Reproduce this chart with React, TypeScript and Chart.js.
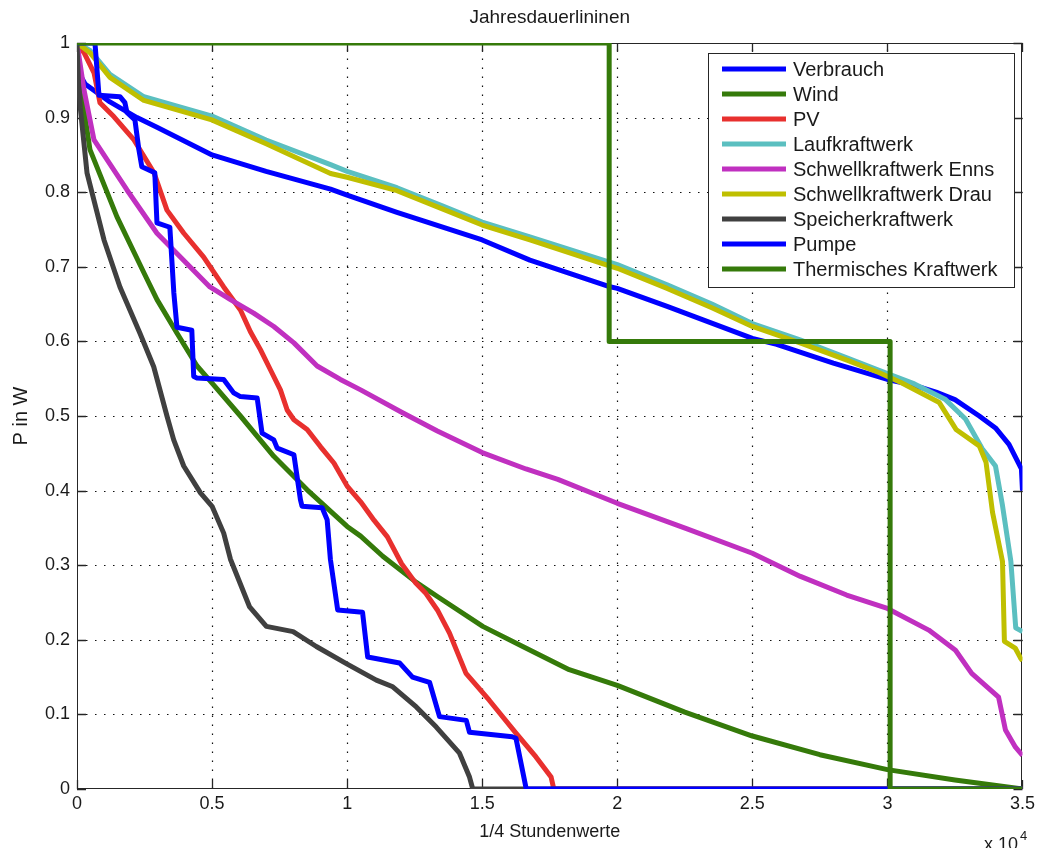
import React, { useEffect, useRef } from "react";
import { Chart, registerables } from "chart.js";

Chart.register(...registerables);

const FONT = '"Liberation Sans", Arial, Helvetica, sans-serif';
const TEXT = "#1a1a1a";
const AXIS = "#262626";

const chartTitle = "Jahresdauerlininen";
const xAxisTitle = "1/4 Stundenwerte";
const yAxisTitle = "P in W";

const seriesLabels = [
  "Verbrauch",
  "Wind",
  "PV",
  "Laufkraftwerk",
  "Schwellkraftwerk Enns",
  "Schwellkraftwerk Drau",
  "Speicherkraftwerk",
  "Pumpe",
  "Thermisches Kraftwerk",
];
const seriesColors = [
  "#0000ff",
  "#357a0a",
  "#e8302e",
  "#5bbfc0",
  "#c030c0",
  "#bfbf00",
  "#404040",
  "#0000ff",
  "#357a0a",
];

const xTickValues = [0, 5000, 10000, 15000, 20000, 25000, 30000, 35000];
const xTickLabels = ["0", "0.5", "1", "1.5", "2", "2.5", "3", "3.5"];
const yTickLabels = ["0", "0.1", "0.2", "0.3", "0.4", "0.5", "0.6", "0.7", "0.8", "0.9", "1"];

const verbrauchX = [0, 150, 300, 1220, 2220, 2960, 5000, 7000, 9385, 10000, 11845, 15000, 16765, 19650, 20000, 21845, 25000, 25900, 28000, 30000, 31000, 31800, 32500, 33400, 34000, 34500, 34960, 35000];
const verbrauchY = [0.99, 0.955, 0.945, 0.921, 0.9, 0.887, 0.85, 0.828, 0.804, 0.796, 0.773, 0.736, 0.709, 0.674, 0.671, 0.647, 0.604, 0.596, 0.571, 0.549, 0.541, 0.532, 0.522, 0.5, 0.484, 0.462, 0.429, 0.4];

const windX = [0, 60, 185, 480, 1480, 2476, 2962, 3703, 4444, 5000, 6050, 7285, 8520, 10000, 10500, 11320, 12560, 13340, 15020, 16500, 18220, 20000, 22500, 25000, 27500, 30000, 32500, 35000];
const windY = [1.0, 0.96, 0.928, 0.857, 0.767, 0.692, 0.656, 0.611, 0.567, 0.544, 0.5, 0.446, 0.401, 0.352, 0.339, 0.312, 0.277, 0.258, 0.218, 0.191, 0.16, 0.139, 0.103, 0.071, 0.046, 0.026, 0.012, 0.0];

const pvX = [0, 260, 630, 850, 1370, 2110, 2850, 3330, 3955, 4690, 5430, 6050, 6420, 6790, 7160, 7530, 7780, 8030, 8520, 9010, 9510, 10000, 10500, 11000, 11490, 12016, 12540, 12920, 13340, 13790, 14400, 15260, 16250, 16990, 17550, 17650, 35000];
const pvY = [1.0, 0.987, 0.96, 0.92, 0.901, 0.87, 0.826, 0.776, 0.745, 0.713, 0.673, 0.642, 0.613, 0.589, 0.562, 0.535, 0.508, 0.495, 0.482, 0.459, 0.437, 0.406, 0.385, 0.36, 0.338, 0.302, 0.276, 0.262, 0.24, 0.209, 0.155, 0.119, 0.075, 0.043, 0.016, 0.0, 0.0];

const laufX = [0, 480, 1220, 2476, 5000, 7000, 9385, 10000, 11845, 13500, 15000, 16765, 19650, 20000, 21845, 23500, 25000, 26765, 28500, 30000, 31000, 32150, 32890, 33510, 34000, 34260, 34570, 34750, 35000];
const laufY = [1.0, 0.99, 0.958, 0.928, 0.902, 0.87, 0.837, 0.828, 0.806, 0.782, 0.76, 0.74, 0.707, 0.703, 0.676, 0.65, 0.624, 0.602, 0.578, 0.557, 0.543, 0.522, 0.496, 0.456, 0.433, 0.38, 0.305, 0.216, 0.211];

const ennsX = [0, 260, 630, 1850, 2960, 4920, 5680, 6540, 7285, 8030, 8890, 9750, 10500, 12016, 13340, 15000, 16620, 17800, 20000, 22560, 25000, 26780, 28490, 30000, 31530, 32520, 33120, 34115, 34370, 34740, 35000];
const ennsY = [1.0, 0.937, 0.87, 0.803, 0.745, 0.673, 0.656, 0.638, 0.62, 0.598, 0.567, 0.549, 0.535, 0.505, 0.48, 0.451, 0.429, 0.415, 0.383, 0.349, 0.316, 0.285, 0.26, 0.242, 0.213, 0.186, 0.155, 0.123, 0.079, 0.056, 0.045];

const drauX = [0, 480, 1220, 2476, 4990, 7000, 9385, 10000, 11845, 13500, 15000, 16765, 19650, 20000, 21845, 23500, 25000, 26765, 28500, 29700, 30500, 31920, 32540, 33400, 33650, 33890, 34260, 34330, 34730, 34920, 35000];
const drauY = [1.0, 0.987, 0.954, 0.923, 0.897, 0.865, 0.825, 0.82, 0.802, 0.778, 0.756, 0.736, 0.702, 0.698, 0.671, 0.645, 0.62, 0.598, 0.575, 0.558, 0.545, 0.518, 0.482, 0.46, 0.438, 0.371, 0.305, 0.198, 0.189, 0.176, 0.172];

const speicherX = [0, 50, 120, 370, 1000, 1590, 2330, 2840, 3330, 3580, 3950, 4570, 5000, 5430, 5680, 6390, 7010, 8000, 8860, 9970, 11080, 11690, 12560, 13300, 14160, 14530, 14650, 35000];
const speicherY = [1.0, 0.95, 0.914, 0.826, 0.736, 0.673, 0.611, 0.566, 0.5, 0.468, 0.433, 0.397, 0.379, 0.343, 0.308, 0.244, 0.218, 0.211, 0.191, 0.168, 0.146, 0.137, 0.11, 0.083, 0.048, 0.016, 0.0, 0.0];

const pumpeX = [0, 665, 813, 1590, 1774, 1848, 2144, 2290, 2400, 2880, 2960, 3437, 3585, 3700, 4250, 4320, 4440, 5430, 5800, 6050, 6670, 6850, 7285, 7410, 8030, 8270, 8330, 9075, 9260, 9380, 9650, 10570, 10760, 11940, 12420, 13050, 13420, 14410, 14530, 16110, 16250, 16630, 35000];
const pumpeY = [1.0, 1.0, 0.93, 0.928, 0.92, 0.907, 0.897, 0.857, 0.834, 0.826, 0.759, 0.753, 0.665, 0.619, 0.615, 0.553, 0.551, 0.549, 0.531, 0.526, 0.524, 0.477, 0.468, 0.457, 0.448, 0.388, 0.379, 0.377, 0.361, 0.308, 0.24, 0.237, 0.177, 0.169, 0.15, 0.143, 0.097, 0.092, 0.076, 0.07, 0.068, 0.0, 0.0];

const thermX = [0, 19700, 19700, 30100, 30100, 35000];
const thermY = [1.0, 1.0, 0.6, 0.6, 0.0, 0.0];

const seriesX = [verbrauchX, windX, pvX, laufX, ennsX, drauX, speicherX, pumpeX, thermX];
const seriesY = [verbrauchY, windY, pvY, laufY, ennsY, drauY, speicherY, pumpeY, thermY];

const matlabPlugin = {
  id: "matlabLook",
  beforeDatasetsDraw(chart: any) {
    const { ctx, chartArea } = chart;
    const { left, right, top, bottom } = chartArea;
    const xs = chart.scales.x;
    const ys = chart.scales.y;
    ctx.save();
    ctx.strokeStyle = "#111111";
    ctx.lineWidth = 1.2;
    ctx.setLineDash([1.5, 7.5]);
    xs.ticks.forEach((t: any) => {
      const px = Math.round(xs.getPixelForValue(t.value)) + 0.5;
      if (px > left + 2 && px < right - 2) {
        ctx.beginPath();
        ctx.moveTo(px, bottom);
        ctx.lineTo(px, top);
        ctx.stroke();
      }
    });
    ys.ticks.forEach((t: any) => {
      const py = Math.round(ys.getPixelForValue(t.value)) + 0.5;
      if (py > top + 2 && py < bottom - 2) {
        ctx.beginPath();
        ctx.moveTo(left, py);
        ctx.lineTo(right, py);
        ctx.stroke();
      }
    });
    ctx.setLineDash([]);
    ctx.strokeStyle = AXIS;
    ctx.lineWidth = 1;
    ctx.strokeRect(Math.round(left) + 0.5, Math.round(top) + 0.5, Math.round(right - left) - 1, Math.round(bottom - top) - 1);
    const tl = 9;
    ctx.lineWidth = 1.3;
    xs.ticks.forEach((t: any) => {
      const px = Math.round(xs.getPixelForValue(t.value)) + 0.5;
      ctx.beginPath();
      ctx.moveTo(px, bottom);
      ctx.lineTo(px, bottom - tl);
      ctx.moveTo(px, top);
      ctx.lineTo(px, top + tl);
      ctx.stroke();
    });
    ys.ticks.forEach((t: any) => {
      const py = Math.round(ys.getPixelForValue(t.value)) + 0.5;
      ctx.beginPath();
      ctx.moveTo(left, py);
      ctx.lineTo(left + tl, py);
      ctx.moveTo(right, py);
      ctx.lineTo(right - tl, py);
      ctx.stroke();
    });
    ctx.restore();
  },
  afterDraw(chart: any) {
    const { ctx, chartArea } = chart;
    const { left, right } = chartArea;
    ctx.save();
    ctx.fillStyle = TEXT;
    ctx.font = `19px ${FONT}`;
    ctx.textAlign = "center";
    ctx.textBaseline = "middle";
    ctx.fillText(chartTitle, (left + right) / 2, 18);
    ctx.textAlign = "left";
    ctx.textBaseline = "top";
    ctx.font = `18px ${FONT}`;
    ctx.fillText("x 10", 984, 836);
    ctx.font = `13px ${FONT}`;
    ctx.fillText("4", 1020, 830);
    const bx = 708.5, by = 53.5, bw = 306, bh = 234;
    ctx.fillStyle = "#ffffff";
    ctx.fillRect(bx, by, bw, bh);
    ctx.strokeStyle = AXIS;
    ctx.lineWidth = 1;
    ctx.strokeRect(bx, by, bw, bh);
    ctx.font = `20px ${FONT}`;
    ctx.textBaseline = "middle";
    chart.data.datasets.forEach((ds: any, i: number) => {
      const ry = 69 + i * 25;
      ctx.strokeStyle = ds.borderColor;
      ctx.lineWidth = 5;
      ctx.beginPath();
      ctx.moveTo(722, ry);
      ctx.lineTo(786, ry);
      ctx.stroke();
      ctx.fillStyle = TEXT;
      ctx.fillText(ds.label, 793, ry + 1);
    });
    ctx.restore();
  },
};

export default function App() {
  const canvasRef = useRef<HTMLCanvasElement | null>(null);

  useEffect(() => {
    document.body.style.margin = "0";
    const canvas = canvasRef.current;
    if (!canvas) return;
    const datasets = seriesLabels.map((label, i) => ({
      label,
      data: seriesX[i].map((x, j) => ({ x, y: seriesY[i][j] })),
      borderColor: seriesColors[i],
      backgroundColor: seriesColors[i],
      borderWidth: 5,
      pointRadius: 0,
      tension: 0,
      fill: false,
      borderJoinStyle: "round" as const,
      order: seriesLabels.length - i,
    }));
    const chart = new Chart(canvas, {
      type: "line",
      data: { datasets },
      options: {
        animation: false,
        responsive: false,
        events: [],
        layout: { padding: { left: 0, right: 15, top: 43, bottom: 0 } },
        plugins: {
          legend: { display: false },
          title: { display: false },
          tooltip: { enabled: false },
        },
        scales: {
          x: {
            type: "linear",
            min: 0,
            max: 35000,
            afterFit: (s: any) => {
              s.height = 59;
            },
            grid: { display: false, drawTicks: false },
            border: { display: false },
            ticks: {
              stepSize: 5000,
              autoSkip: false,
              maxRotation: 0,
              padding: 4,
              color: TEXT,
              font: { family: FONT, size: 18 },
              callback: (v: any) => {
                const k = xTickValues.indexOf(Number(v));
                return k >= 0 ? xTickLabels[k] : "";
              },
            },
            title: {
              display: true,
              text: xAxisTitle,
              color: TEXT,
              font: { family: FONT, size: 18 },
              padding: { top: 0, bottom: 5 },
            },
          },
          y: {
            type: "linear",
            min: 0,
            max: 1,
            afterFit: (s: any) => {
              s.width = 77;
            },
            grid: { display: false, drawTicks: false },
            border: { display: false },
            ticks: {
              stepSize: 0.1,
              autoSkip: false,
              padding: 7,
              color: TEXT,
              font: { family: FONT, size: 18 },
              callback: (v: any) => yTickLabels[Math.round(Number(v) * 10)] ?? "",
            },
            title: {
              display: true,
              text: yAxisTitle,
              color: TEXT,
              font: { family: FONT, size: 20 },
              padding: { top: 9, bottom: 0 },
            },
          },
        },
      },
      plugins: [matlabPlugin],
    });
    return () => chart.destroy();
  }, []);

  return (
    <div style={{ width: 1039, height: 848 }}>
      <canvas ref={canvasRef} width={1039} height={848} style={{ display: "block" }} />
    </div>
  );
}
